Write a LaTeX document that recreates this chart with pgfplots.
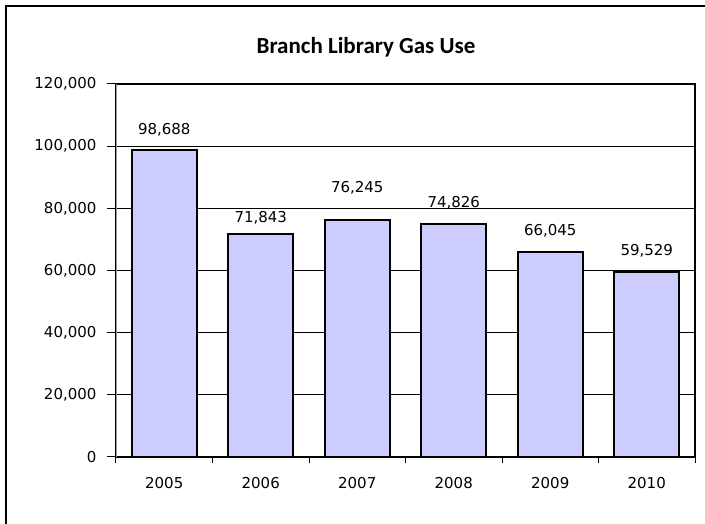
\documentclass[border=0pt]{standalone}
\usepackage{pgfplots}
\pgfplotsset{compat=1.18}
\usepackage{fontspec}
\setmainfont{DejaVu Sans}
\newfontfamily\titlefont{Carlito}
\definecolor{barfill}{HTML}{CCCCFF}
\newcommand{\lblfont}{\fontsize{15}{17}\selectfont}
\begin{document}
\begin{tikzpicture}[x=1pt,y=1pt]
\path[use as bounding box] (0,0) rectangle (705,524);
% outer chart frame (only left and top edges show)
\draw[line width=1.3pt] (6,0) -- (6,518) -- (705,518);
\node[font=\titlefont\bfseries\fontsize{23}{26}\selectfont] at (366,477) {Branch Library Gas Use};
\begin{axis}[
  at={(116pt,67pt)}, anchor=south west,
  scale only axis, width=579pt, height=373pt,
  xmin=-0.5, xmax=5.5, ymin=0, ymax=120000,
  ytick={0,20000,40000,60000,80000,100000,120000},
  yticklabels={0,{20,000},{40,000},{60,000},{80,000},{100,000},{120,000}},
  scaled y ticks=false,
  xtick={0,...,5},
  xticklabels={2005,2006,2007,2008,2009,2010},
  minor xtick={-0.5,0.5,...,5.5},
  major x tick style={draw=none},
  xtick pos=bottom, ytick pos=left,
  tick align=outside,
  major tick length=9pt, minor tick length=6pt,
  tick style={black, line width=1pt},
  ymajorgrids, grid style={black, line width=1pt},
  axis line style={black, line width=1.3pt},
  tick label style={font=\lblfont},
  yticklabel style={xshift=-7pt},
  xticklabel style={yshift=-8pt},
]
\addplot[ybar, bar width=65pt, fill=barfill, draw=black, line width=2pt]
  coordinates {(0,98688) (1,71843) (2,76245) (3,74826) (4,66045) (5,59529)};
\node[font=\lblfont] at (axis cs:0,105200) {98,688};
\node[font=\lblfont] at (axis cs:1,76890) {71,843};
\node[font=\lblfont] at (axis cs:2,86540) {76,245};
\node[font=\lblfont] at (axis cs:3,81720) {74,826};
\node[font=\lblfont] at (axis cs:4,72710) {66,045};
\node[font=\lblfont] at (axis cs:5,66270) {59,529};
\end{axis}
% left axis line is a light grey in the original
\draw[gray!80, line width=1pt] (116,67) -- (116,440);
\end{tikzpicture}
\end{document}
